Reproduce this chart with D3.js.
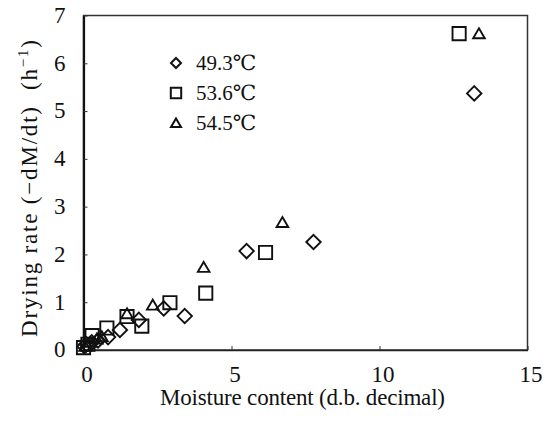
<!DOCTYPE html>
<html>
<head>
<meta charset="utf-8">
<script src="https://cdn.jsdelivr.net/npm/d3@7"></script>
<style>
  html, body { margin: 0; padding: 0; background: #fff; }
  svg { display: block; }
  text { font-family: "Liberation Serif", "DejaVu Serif", serif; fill: #111; }
</style>
</head>
<body>
<svg id="chart" width="549" height="427"></svg>
<script>
// ---- data ----
const seriesNames = ["49.3℃", "53.6℃", "54.5℃"];
const seriesShapes = ["diamond", "square", "triangle"];

const moisture493 = [0.03, 0.10, 0.28, 0.49, 0.83, 1.23, 1.87, 2.71, 3.42, 5.51, 7.77, 13.20];
const rate493     = [0.08, 0.12, 0.16, 0.20, 0.27, 0.42, 0.63, 0.87, 0.71, 2.07, 2.26, 5.37];

const moisture536 = [0.00, 0.15, 0.29, 0.79, 1.47, 1.97, 2.92, 4.13, 6.15, 12.69];
const rate536     = [0.05, 0.12, 0.30, 0.46, 0.70, 0.50, 0.99, 1.19, 2.04, 6.62];

const moisture545 = [0.05, 0.22, 0.45, 0.62, 1.47, 2.34, 4.06, 6.72, 13.36];
const rate545     = [0.08, 0.16, 0.23, 0.28, 0.76, 0.94, 1.73, 2.67, 6.62];

const xTicks = [0, 5, 10, 15];
const yTicks = [0, 1, 2, 3, 4, 5, 6, 7];
const xTitle = "Moisture content (d.b. decimal)";

// ---- layout ----
const svg = d3.select("#chart");
const W = 549, H = 427;
const margin = {left: 83.5, right: 21.5, top: 15.5, bottom: 77};

const x = d3.scaleLinear().domain([0, 15]).range([margin.left, W - margin.right]);
const y = d3.scaleLinear().domain([0, 7]).range([H - margin.bottom, margin.top]);

const series = [
  {name: seriesNames[0], shape: seriesShapes[0], xs: moisture493, ys: rate493},
  {name: seriesNames[1], shape: seriesShapes[1], xs: moisture536, ys: rate536},
  {name: seriesNames[2], shape: seriesShapes[2], xs: moisture545, ys: rate545}
];

function shapePath(shape, s) {
  if (shape === "diamond") return `M0,${-s}L${s},0L0,${s}L${-s},0Z`;
  if (shape === "square") return `M${-s},${-s}H${s}V${s}H${-s}Z`;
  const h = s * 0.92;
  return `M0,${-h}L${s},${h * 0.85}L${-s},${h * 0.85}Z`;
}
const markerHalf = {diamond: 7.2, square: 6.6, triangle: 5.8};
const legendHalf = {diamond: 5.0, square: 5.2, triangle: 5.0};

// ---- frame ----
svg.append("rect")
  .attr("x", x(0)).attr("y", y(7))
  .attr("width", x(15) - x(0)).attr("height", y(0) - y(7))
  .attr("fill", "none").attr("stroke", "#333").attr("stroke-width", 1.5);

// ---- axes ----
const xAxis = d3.axisBottom(x).tickValues(xTicks).tickFormat(d3.format("d"))
  .tickSizeInner(-4).tickSizeOuter(0).tickPadding(16);
const gx = svg.append("g").attr("transform", `translate(0,${y(0)})`).call(xAxis);
gx.select(".domain").attr("stroke", "#222").attr("stroke-width", 1.5);
gx.selectAll(".tick line").attr("stroke", "#333");
gx.selectAll(".tick text").style("font-size", "23px").attr("fill", "#111").attr("dx", 3);

const yAxis = d3.axisLeft(y).tickValues(yTicks).tickFormat(d3.format("d"))
  .tickSizeInner(-4).tickSizeOuter(0).tickPadding(18);
const gy = svg.append("g").attr("transform", `translate(${x(0)},0)`).call(yAxis);
gy.select(".domain").attr("stroke", "#111").attr("stroke-width", 2.2);
gy.selectAll(".tick line").attr("stroke", "#333");
gy.selectAll(".tick text").style("font-size", "23px").attr("fill", "#111").attr("dy", "0.30em");

// ---- axis titles ----
svg.append("text")
  .attr("x", 160).attr("y", 405)
  .attr("text-anchor", "start").style("font-size", "23px")
  .attr("textLength", 285).attr("lengthAdjust", "spacing")
  .text(xTitle);

const yt = svg.append("text")
  .attr("transform", `translate(37,337) rotate(-90)`)
  .attr("text-anchor", "start").style("font-size", "23px")
  .attr("textLength", 297).attr("lengthAdjust", "spacing");
yt.append("tspan").text("Drying rate\u00A0(−dM/dt)\u00A0\u00A0(h");
yt.append("tspan").style("font-size", "15px").attr("dy", -9).text("−1");
yt.append("tspan").attr("dy", 9).text(")");

// ---- points ----
series.forEach(s => {
  const pts = s.xs.map((v, i) => [v, s.ys[i]]);
  svg.append("g").selectAll("path").data(pts).join("path")
    .attr("transform", d => `translate(${x(d[0])},${y(d[1])})`)
    .attr("d", shapePath(s.shape, markerHalf[s.shape]))
    .attr("fill", "none").attr("stroke", "#111").attr("stroke-width", 1.9)
    .attr("stroke-linejoin", "miter");
});

// ---- legend ----
const lg = svg.append("g");
series.forEach((s, i) => {
  const cy = 63 + i * 30;
  lg.append("path")
    .attr("transform", `translate(176,${cy})`)
    .attr("d", shapePath(s.shape, legendHalf[s.shape]))
    .attr("fill", "none").attr("stroke", "#111").attr("stroke-width", 2);
  lg.append("text").attr("x", 196).attr("y", cy + 7)
    .style("font-size", "21px").text(s.name);
});
</script>
</body>
</html>
